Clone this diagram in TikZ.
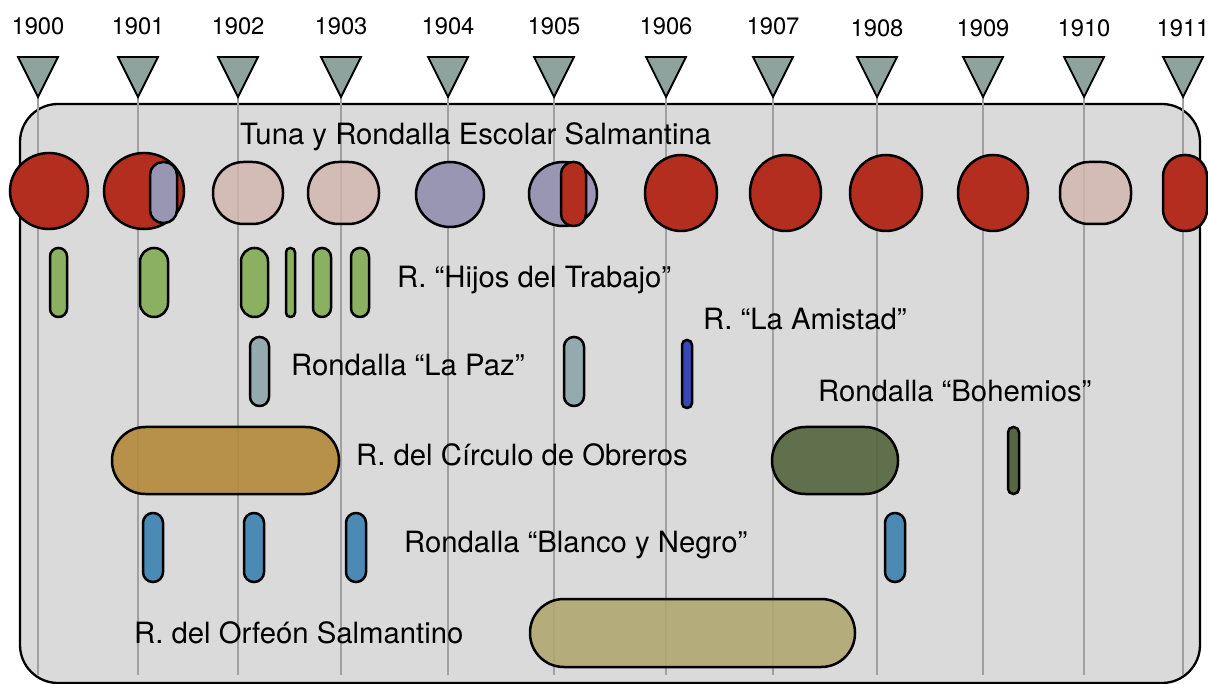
\documentclass[tikz,border=0pt]{standalone}
\usepackage{fontspec}
\setmainfont{TeX Gyre Heros}
\definecolor{bggray}{HTML}{DADADA}
\definecolor{gridgray}{HTML}{A0A0A0}
\definecolor{trifill}{HTML}{8FA39E}
\definecolor{tred}{HTML}{B32E1F}
\definecolor{tpink}{HTML}{D2B4AE}
\definecolor{tlav}{HTML}{9896B3}
\definecolor{tgreen}{HTML}{8BB062}
\definecolor{tpaz}{HTML}{94AAAE}
\definecolor{tamis}{HTML}{3A48B5}
\definecolor{tochre}{HTML}{B4883A}
\definecolor{tolive}{HTML}{566640}
\definecolor{tblue}{HTML}{4A8AB4}
\definecolor{tkhaki}{HTML}{B1A670}
\newcommand\drawpill[6]{\draw[pill,#6,rounded corners=#5] (#1,#2) rectangle (#3,#4);}
\newcommand\drawoval[5]{\draw[pill,#5] (#1,#2) ellipse [x radius=#3pt, y radius=#4pt];}
\begin{document}
\begin{tikzpicture}[x=1pt,y=-1pt,
  gridline/.style={draw=gridgray, line width=2.2pt},
  tri/.style={fill=trifill, draw=black, line width=1.8pt, line join=miter},
  pill/.style={draw=black, line width=2.5pt},
  lbl/.style={font=\fontsize{29.3}{34}\selectfont, anchor=base west, inner sep=0pt},
  yr/.style={font=\fontsize{23.8}{28}\selectfont, anchor=base, inner sep=0pt}]
\useasboundingbox (0,0) rectangle (1208,684);
\draw[fill=bggray, line width=2.3pt, rounded corners=38] (20,104) rectangle (1200,683);
% grid lines, triangles and year labels
\foreach \x/\yr/\b in {38/1900/35,138/1901/35,238/1902/35,341/1903/35,448/1904/35,554/1905/35,666/1906/35,773/1907/35,877/1908/36.7,983/1909/36.7,1084/1910/36.7,1183/1911/36.7}{
  \coordinate (top\yr) at (\x,95);
  \coordinate (bot\yr) at (\x,675);
  \draw[gridline] (top\yr) -- (bot\yr);
  \draw[tri] (\x-20,57) -- (\x+20,57) -- (\x,97) -- cycle;
  \node[yr] (y\yr) at (\x,\b) {\yr};
}
% Tuna row
\drawoval{49}{191}{39}{38}{fill=tred}
\drawoval{144}{191}{40}{38}{fill=tred}
\drawpill{150}{162}{177}{223}{13}{fill=tlav}
\drawpill{213}{162}{283}{224}{30.5}{fill=tpink, fill opacity=0.8}
\drawpill{308}{162}{379}{224}{30.5}{fill=tpink, fill opacity=0.8}
\drawoval{450}{194.5}{34}{32.5}{fill=tlav}
\drawoval{563}{194}{34}{32}{fill=tlav}
\drawpill{561}{162}{586}{226}{12}{fill=tred}
\drawoval{681}{193}{36}{38}{fill=tred}
\drawoval{785.5}{193}{35.5}{38}{fill=tred}
\drawoval{886}{193}{36}{38}{fill=tred}
\drawoval{993}{193}{35}{38}{fill=tred}
\drawpill{1060}{162}{1131}{224}{29}{fill=tpink, fill opacity=0.8}
\drawpill{1163}{155}{1207}{231}{21.5}{fill=tred}
% Hijos del Trabajo
\drawpill{50}{248}{67}{317}{8.3}{fill=tgreen}
\drawpill{140}{248}{168}{317}{13.8}{fill=tgreen}
\drawpill{241}{248}{268}{317}{13.3}{fill=tgreen}
\drawpill{286}{248}{295}{317}{4.3}{fill=tgreen}
\drawpill{313}{248}{331}{317}{8.8}{fill=tgreen}
\drawpill{351}{248}{369}{317}{8.8}{fill=tgreen}
% La Paz
\drawpill{250}{337}{269}{406}{9.3}{fill=tpaz}
\drawpill{564}{337}{584}{406}{9.8}{fill=tpaz}
% La Amistad
\drawpill{682}{340}{692}{408}{4.8}{fill=tamis}
% Circulo de Obreros
\drawpill{112}{427}{339}{494}{33.3}{fill=tochre, fill opacity=0.9}
% Bohemios
\drawpill{772}{427}{898}{494}{33.3}{fill=tolive, fill opacity=0.92}
\drawpill{1008}{427}{1019}{494}{5.3}{fill=tolive}
% Blanco y Negro
\drawpill{143}{513}{163}{582}{9.8}{fill=tblue}
\drawpill{244}{513}{264}{582}{9.8}{fill=tblue}
\drawpill{346}{513}{366}{582}{9.8}{fill=tblue}
\drawpill{885}{513}{905}{582}{9.8}{fill=tblue}
% Orfeon
\drawpill{530}{599}{855}{667}{33.8}{fill=tkhaki, fill opacity=0.88}
% labels
\node[lbl] (tuna) at (240,145) {Tuna y Rondalla Escolar Salmantina};
\node[lbl] (hijos) at (397,288) {R. “Hijos del Trabajo”};
\node[lbl] (amistad) at (703,330) {R. “La Amistad”};
\node[lbl] (lapaz) at (291,376) {Rondalla “La Paz”};
\node[lbl] (bohemios) at (818,402) {Rondalla “Bohemios”};
\node[lbl] (circulo) at (356,465) {R. del Círculo de Obreros};
\node[lbl] (blanco) at (404,552) {Rondalla “Blanco y Negro”};
\node[lbl] (orfeon) at (134,643) {R. del Orfeón Salmantino};
\end{tikzpicture}
\end{document}
